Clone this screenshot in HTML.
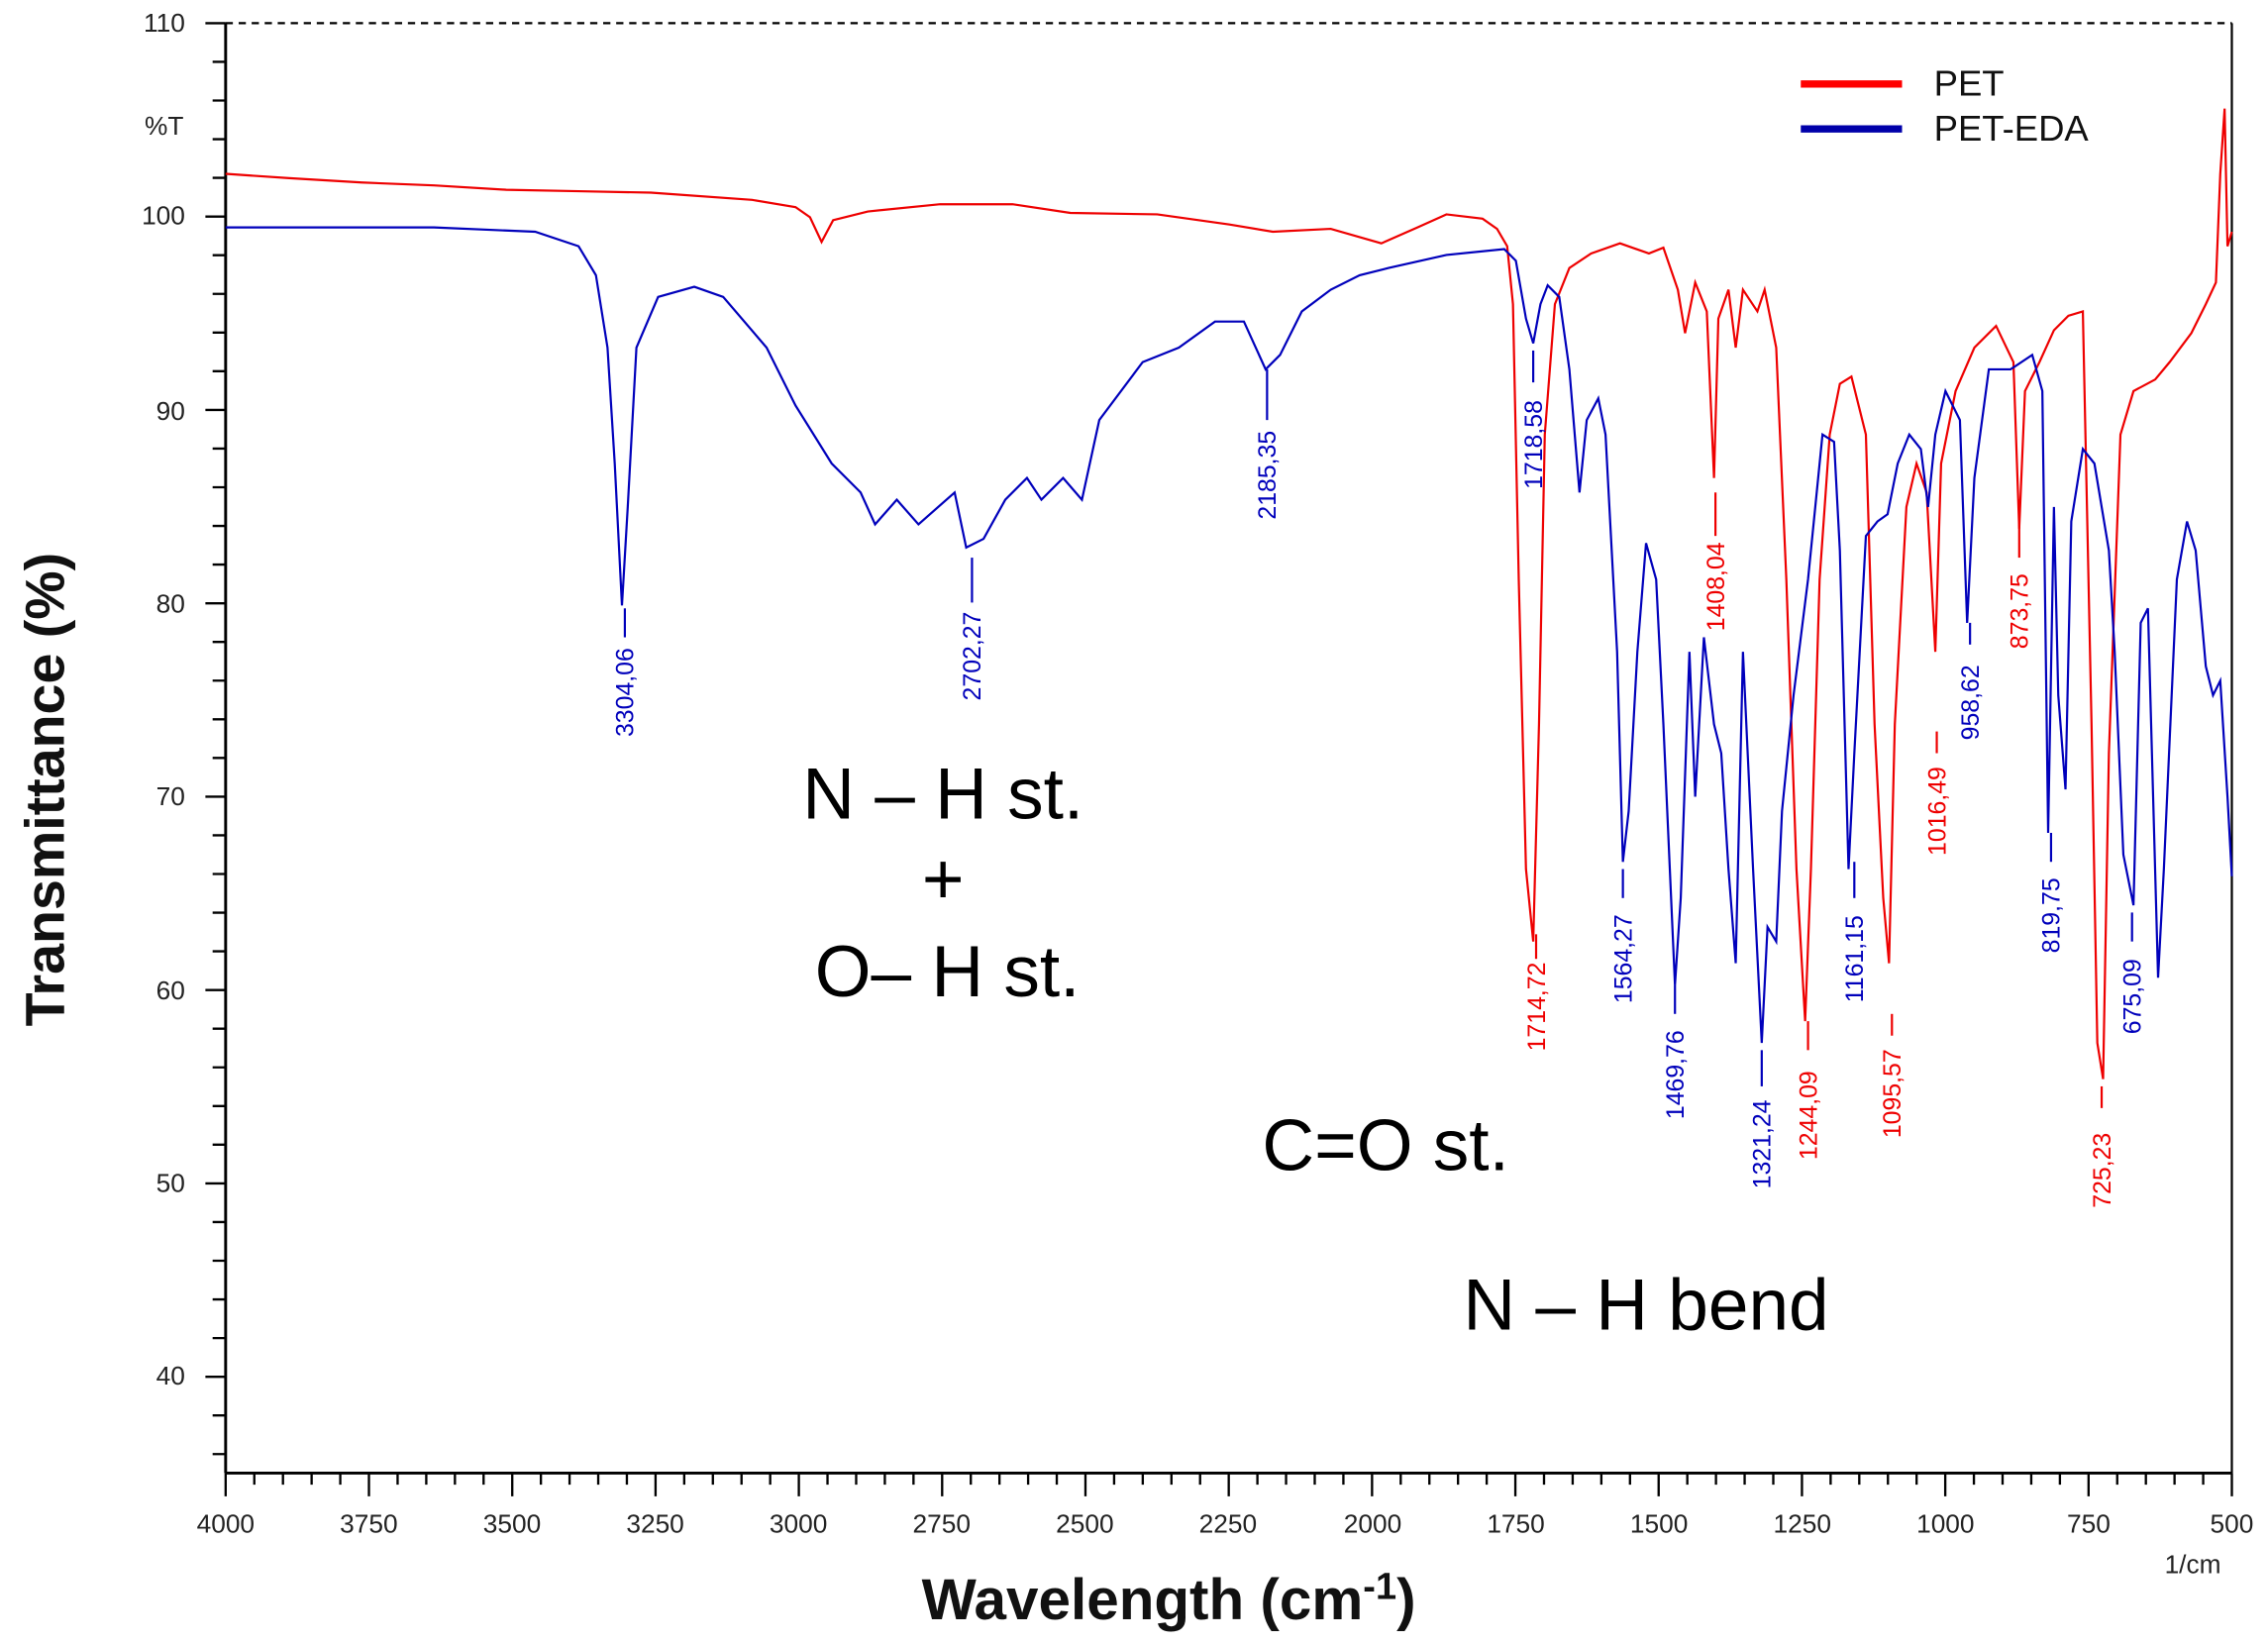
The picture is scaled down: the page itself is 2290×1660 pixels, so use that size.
<!DOCTYPE html>
<html><head><meta charset="utf-8"><style>
html,body{margin:0;padding:0;background:#fff;}
svg{display:block;}
text{font-family:"Liberation Sans",Arial,sans-serif;}
</style></head><body>
<svg id="s" width="2290" height="1660" viewBox="0 0 1568 1135" preserveAspectRatio="none" xmlns="http://www.w3.org/2000/svg">
<rect width="1568" height="1135" fill="#fff"/>
<line x1="156" y1="16" x2="1543" y2="16" stroke="#000" stroke-width="1.5" stroke-dasharray="5,4"/>
<line x1="156" y1="16" x2="156" y2="1017" stroke="#000" stroke-width="2"/>
<line x1="1543" y1="16" x2="1543" y2="1017" stroke="#000" stroke-width="1.5"/>
<line x1="156" y1="1017" x2="1543" y2="1017" stroke="#000" stroke-width="2"/>
<path id="ticks" stroke="#000" stroke-width="1.6" fill="none"/>
<g font-size="18" fill="#222" text-anchor="end">
<text x="128" y="22">110</text><text x="128" y="155">100</text><text x="128" y="290">90</text><text x="128" y="423">80</text><text x="128" y="556">70</text><text x="128" y="690">60</text><text x="128" y="823">50</text><text x="128" y="956">40</text>
<text x="127" y="93">%T</text>
</g>
<g font-size="18" fill="#222" text-anchor="middle">
<text x="156" y="1058">4000</text><text x="255" y="1058">3750</text><text x="354" y="1058">3500</text><text x="453" y="1058">3250</text><text x="552" y="1058">3000</text><text x="651" y="1058">2750</text><text x="750" y="1058">2500</text><text x="849" y="1058">2250</text><text x="949" y="1058">2000</text><text x="1048" y="1058">1750</text><text x="1147" y="1058">1500</text><text x="1246" y="1058">1250</text><text x="1345" y="1058">1000</text><text x="1444" y="1058">750</text><text x="1543" y="1058">500</text>
<text x="1516" y="1086">1/cm</text>
</g>
<text x="808" y="1118" font-size="40" font-weight="bold" text-anchor="middle" fill="#111">Wavelength (cm<tspan dy="-14" font-size="26">-1</tspan><tspan dy="14">)</tspan></text>
<text transform="translate(44,545) rotate(-90)" font-size="38" font-weight="bold" text-anchor="middle" fill="#111">Transmittance (%)</text>
<line x1="1245" y1="58" x2="1315" y2="58" stroke="#f00" stroke-width="5"/>
<line x1="1245" y1="89" x2="1315" y2="89" stroke="#00a" stroke-width="5"/>
<text x="1337" y="66" font-size="25" fill="#111">PET</text>
<text x="1337" y="97" font-size="25" fill="#111">PET-EDA</text>
<polyline fill="none" stroke="#e00" stroke-width="1.5" points="156,120 200,123 250,126 300,128 350,131 400,132 450,133 520,138 550,143 560,150 568,167 576,152 600,146 650,141 700,141 740,147 800,148 850,155 880,160 920,158 955,168 980,157 1000,148 1025,151 1035,158 1042,170 1046,210 1050,400 1055,600 1060,650 1064,500 1068,300 1075,210 1085,185 1100,175 1120,168 1140,175 1150,171 1160,200 1165,230 1172,195 1180,215 1185,330 1188,220 1195,200 1200,240 1205,200 1215,215 1220,200 1228,240 1235,400 1242,600 1248,705 1252,600 1258,400 1265,300 1272,265 1280,260 1285,280 1290,300 1296,500 1302,620 1306,665 1310,500 1318,350 1325,320 1332,340 1338,450 1342,320 1352,270 1365,240 1380,225 1392,250 1396,365 1400,270 1410,250 1420,228 1430,218 1440,215 1446,500 1450,720 1454,745 1458,520 1466,300 1475,270 1490,262 1500,250 1515,230 1525,210 1532,195 1535,120 1538,75 1540,170 1543,160"/>
<polyline fill="none" stroke="#00b" stroke-width="1.5" points="156,157 300,157 370,160 400,170 412,190 420,240 425,320 430,418 434,350 440,240 455,205 480,198 500,205 530,240 550,280 575,320 595,340 605,362 620,345 635,362 660,340 668,378 680,372 695,345 710,330 720,345 735,330 748,345 760,290 790,250 815,240 840,222 860,222 875,255 885,245 900,215 920,200 940,190 960,185 1000,176 1040,172 1048,180 1055,220 1060,237 1065,210 1070,197 1078,205 1085,255 1092,340 1097,290 1105,275 1110,300 1118,450 1122,595 1126,560 1132,450 1138,375 1145,400 1150,500 1158,680 1162,620 1168,450 1172,550 1178,440 1185,500 1190,520 1195,600 1200,665 1205,450 1212,600 1218,720 1222,640 1228,650 1232,560 1240,480 1250,400 1260,300 1268,305 1272,380 1278,600 1282,520 1290,370 1298,360 1305,355 1312,320 1320,300 1328,310 1333,350 1338,300 1345,270 1355,290 1360,430 1365,330 1375,255 1390,255 1405,245 1412,270 1416,575 1420,350 1423,480 1428,545 1432,360 1440,310 1448,320 1458,380 1462,450 1468,590 1475,625 1480,430 1485,420 1492,675 1496,600 1505,400 1512,360 1518,380 1525,460 1530,480 1535,470 1540,550 1543,605"/>
<g font-size="17" text-anchor="middle">
<g fill="#00b" stroke="none">
<text transform="translate(438,478) rotate(-90)">3304,06</text>
<text transform="translate(678,453) rotate(-90)">2702,27</text>
<text transform="translate(882,328) rotate(-90)">2185,35</text>
<text transform="translate(1066,307) rotate(-90)">1718,58</text>
<text transform="translate(1128,662) rotate(-90)">1564,27</text>
<text transform="translate(1164,742) rotate(-90)">1469,76</text>
<text transform="translate(1224,790) rotate(-90)">1321,24</text>
<text transform="translate(1288,662) rotate(-90)">1161,15</text>
<text transform="translate(1368,485) rotate(-90)">958,62</text>
<text transform="translate(1424,632) rotate(-90)">819,75</text>
<text transform="translate(1480,688) rotate(-90)">675,09</text>
</g>
<g fill="#e00">
<text transform="translate(1068,695) rotate(-90)">1714,72</text>
<text transform="translate(1192,405) rotate(-90)">1408,04</text>
<text transform="translate(1256,770) rotate(-90)">1244,09</text>
<text transform="translate(1314,755) rotate(-90)">1095,57</text>
<text transform="translate(1345,560) rotate(-90)">1016,49</text>
<text transform="translate(1402,422) rotate(-90)">873,75</text>
<text transform="translate(1459,808) rotate(-90)">725,23</text>
</g>
</g>
<g stroke-width="1.5">
<g stroke="#00b">
<line x1="432" y1="420" x2="432" y2="440"/><line x1="672" y1="385" x2="672" y2="416"/><line x1="876" y1="255" x2="876" y2="290"/><line x1="1060" y1="242" x2="1060" y2="264"/><line x1="1122" y1="600" x2="1122" y2="620"/><line x1="1158" y1="680" x2="1158" y2="700"/><line x1="1218" y1="725" x2="1218" y2="750"/><line x1="1282" y1="595" x2="1282" y2="620"/><line x1="1362" y1="430" x2="1362" y2="445"/><line x1="1418" y1="575" x2="1418" y2="595"/><line x1="1474" y1="630" x2="1474" y2="650"/>
</g>
<g stroke="#e00">
<line x1="1062" y1="645" x2="1062" y2="662"/><line x1="1186" y1="340" x2="1186" y2="370"/><line x1="1250" y1="705" x2="1250" y2="725"/><line x1="1308" y1="700" x2="1308" y2="715"/><line x1="1339" y1="505" x2="1339" y2="520"/><line x1="1396" y1="345" x2="1396" y2="385"/><line x1="1453" y1="750" x2="1453" y2="765"/>
</g>
</g>
<g font-size="50" fill="#000" text-anchor="middle">
<text x="652" y="565">N – H st.</text>
<text x="652" y="624">+</text>
<text x="655" y="688">O– H st.</text>
<text x="958" y="808">C=O st.</text>
<text x="1138" y="918">N – H bend</text>
</g>
</svg>
<script>
var d="";
for(var v=110;v>=36;v-=2){var y=16+(110-v)*13.35;d+="M"+(v%10==0?142:147)+" "+y+"H156";}
for(var w=4000;w>=500;w-=50){var x=156+(4000-w)*0.39629;d+="M"+x+" 1017V"+(w%250==0?1033:1025);}
document.getElementById("ticks").setAttribute("d",d);
</script>
</body></html>
